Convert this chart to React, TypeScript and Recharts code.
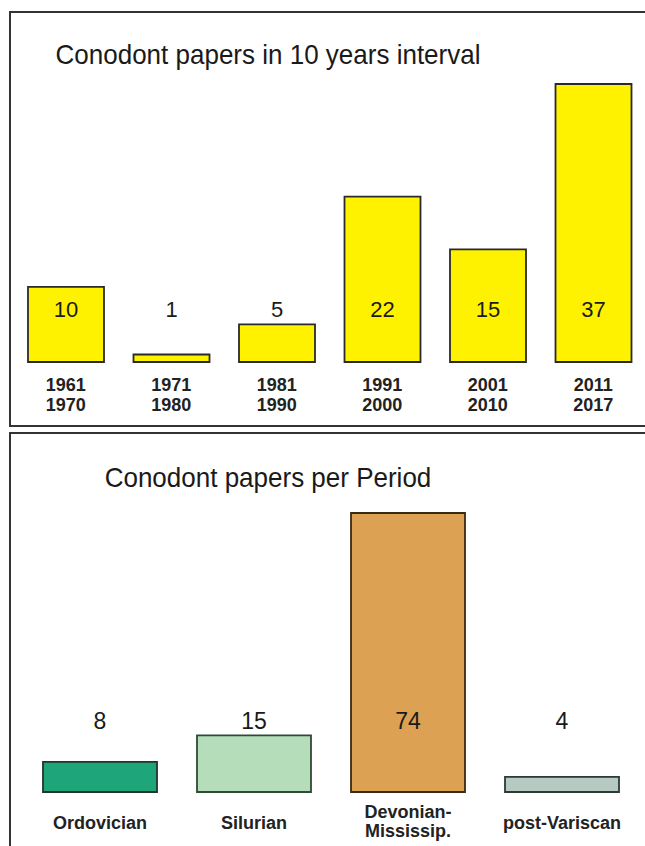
import { BarChart, Bar, XAxis, YAxis, Cell, LabelList } from "recharts";

// Papers per 10-year interval
const intervalStarts = ["1961", "1971", "1981", "1991", "2001", "2011"];
const intervalEnds = ["1970", "1980", "1990", "2000", "2010", "2017"];
const intervalCounts = [10, 1, 5, 22, 15, 37];

// Papers per geological period
const periodLabels = [
  ["Ordovician"],
  ["Silurian"],
  ["Devonian-", "Mississip."],
  ["post-Variscan"],
];
const periodCounts = [8, 15, 74, 4];

const PERIOD_FILLS = ["#1fa57a", "#b6ddba", "#dca152", "#b6cac2"];
const PERIOD_STROKES = ["#24332c", "#2f4a35", "#3b2a12", "#2c3a35"];

const FONT = "'Liberation Sans', Arial, sans-serif";

const intervalData = intervalCounts.map((count, i) => ({
  name: intervalStarts[i],
  lines: [intervalStarts[i], intervalEnds[i]],
  count,
}));

const periodData = periodCounts.map((count, i) => ({
  name: periodLabels[i].join(" "),
  lines: periodLabels[i],
  count,
}));

const topTick = (props: any) => {
  const { x, y, index } = props;
  const lines = intervalData[index].lines;
  return (
    <g>
      {lines.map((l: string, i: number) => (
        <text
          key={i}
          x={x}
          y={y + 29 + i * 20}
          textAnchor="middle"
          fontFamily={FONT}
          fontWeight="bold"
          fontSize={18}
          fill="#222"
        >
          {l}
        </text>
      ))}
    </g>
  );
};

const bottomTick = (props: any) => {
  const { x, y, index } = props;
  const lines = periodData[index].lines;
  const start = lines.length > 1 ? 26 : 37;
  return (
    <g>
      {lines.map((l: string, i: number) => (
        <text
          key={i}
          x={x}
          y={y + start + i * 19}
          textAnchor="middle"
          fontFamily={FONT}
          fontWeight="bold"
          fontSize={18}
          fill="#222"
        >
          {l}
        </text>
      ))}
    </g>
  );
};

// value labels sit at a fixed height above the baseline
const valueLabel = (offset: number, size: number) => (props: any) => {
  const { x, y, width, height, value } = props;
  return (
    <text
      x={x + width / 2}
      y={y + height - offset}
      textAnchor="middle"
      fontFamily={FONT}
      fontSize={size}
      fill="#1a1a1a"
    >
      {value}
    </text>
  );
};

const titleStyle: React.CSSProperties = {
  position: "absolute",
  left: 0,
  width: 536,
  textAlign: "center",
  fontFamily: FONT,
  fontSize: 26,
  lineHeight: "26px",
  color: "#1a1a1a",
  whiteSpace: "nowrap",
  transform: "scaleY(1.08)",
  transformOrigin: "50% 22px",
};

export default function App() {
  return (
    <div
      style={{
        position: "absolute",
        left: 0,
        top: 0,
        width: 645,
        height: 846,
        overflow: "hidden",
        background: "#fff",
      }}
    >
      <div
        style={{
          position: "absolute",
          left: 9,
          top: 11,
          width: 700,
          height: 416,
          boxSizing: "border-box",
          border: "2px solid #333",
        }}
      />
      <div
        style={{
          position: "absolute",
          left: 9,
          top: 432,
          width: 700,
          height: 500,
          boxSizing: "border-box",
          border: "2px solid #333",
        }}
      />

      <div style={{ ...titleStyle, top: 42 }}>Conodont papers in 10 years interval</div>
      <div style={{ ...titleStyle, top: 465 }}>Conodont papers per Period</div>

      <div style={{ position: "absolute", left: 0, top: 0 }}>
        <BarChart
          width={660}
          height={430}
          data={intervalData}
          margin={{ top: 84, right: 14, bottom: 0, left: 13 }}
          barSize={76}
        >
          <YAxis hide domain={[0, 37]} />
          <XAxis
            dataKey="name"
            axisLine={false}
            tickLine={false}
            tickSize={0}
            tickMargin={0}
            height={68}
            interval={0}
            tick={topTick}
          />
          <Bar
            dataKey="count"
            fill="#fff200"
            stroke="#2a2a2a"
            strokeWidth={1.8}
            isAnimationActive={false}
          >
            <LabelList dataKey="count" content={valueLabel(45, 22)} />
          </Bar>
        </BarChart>
      </div>

      <div style={{ position: "absolute", left: 0, top: 434 }}>
        <BarChart
          width={660}
          height={412}
          data={periodData}
          margin={{ top: 79, right: 21, bottom: 0, left: 23 }}
          barSize={114}
        >
          <YAxis hide domain={[0, 74]} />
          <XAxis
            dataKey="name"
            axisLine={false}
            tickLine={false}
            tickSize={0}
            tickMargin={0}
            height={54}
            interval={0}
            tick={bottomTick}
          />
          <Bar dataKey="count" strokeWidth={1.8} isAnimationActive={false}>
            {periodData.map((d, i) => (
              <Cell key={d.name} fill={PERIOD_FILLS[i]} stroke={PERIOD_STROKES[i]} />
            ))}
            <LabelList dataKey="count" content={valueLabel(63, 23)} />
          </Bar>
        </BarChart>
      </div>
    </div>
  );
}
